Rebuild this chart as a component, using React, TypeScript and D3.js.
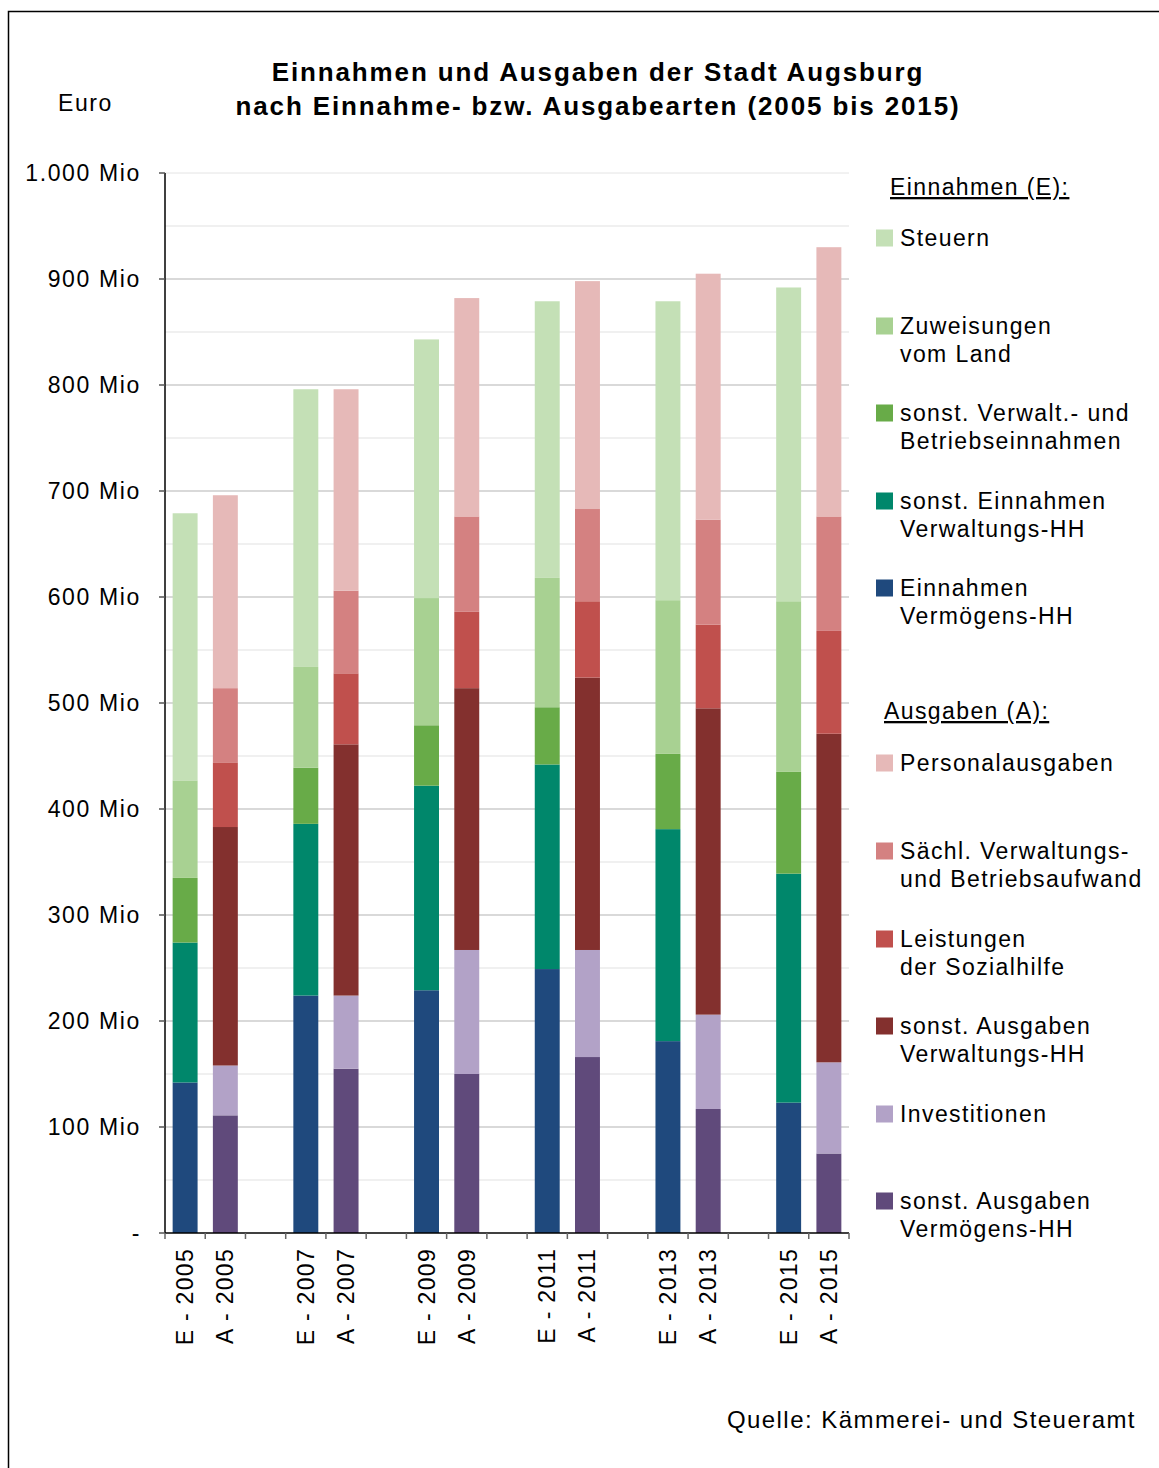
import React from "react";
import * as d3 from "d3";

const years = ["2005", "2007", "2009", "2011", "2013", "2015"];

// Einnahmen (E), Mio Euro
const steuern = [252, 262, 244, 261, 282, 296];
const zuweisungen = [92, 95, 120, 122, 145, 161];
const sonstVerwaltBetrieb = [61, 53, 57, 54, 71, 96];
const sonstEinnahmenVwHH = [132, 162, 193, 193, 200, 216];
const einnahmenVermHH = [142, 224, 229, 249, 181, 123];

// Ausgaben (A), Mio Euro
const personal = [182, 190, 206, 215, 232, 254];
const saechl = [70, 78, 90, 87, 99, 108];
const sozialhilfe = [61, 67, 72, 72, 79, 97];
const sonstAusgVwHH = [225, 237, 247, 257, 289, 310];
const investitionen = [47, 69, 117, 101, 89, 86];
const sonstAusgVermHH = [111, 155, 150, 166, 117, 75];

const yTicks = [0, 100, 200, 300, 400, 500, 600, 700, 800, 900, 1000];
const yTickLabels = ["-", "100 Mio", "200 Mio", "300 Mio", "400 Mio", "500 Mio", "600 Mio", "700 Mio", "800 Mio", "900 Mio", "1.000 Mio"];

const eSeries = [
  { key: "verm", label: ["Einnahmen", "Vermögens-HH"], color: "#1f497d", values: einnahmenVermHH },
  { key: "sonstE", label: ["sonst. Einnahmen", "Verwaltungs-HH"], color: "#00876b", values: sonstEinnahmenVwHH },
  { key: "sonstV", label: ["sonst. Verwalt.- und", "Betriebseinnahmen"], color: "#68ab48", values: sonstVerwaltBetrieb },
  { key: "zuw", label: ["Zuweisungen", "vom Land"], color: "#a8d192", values: zuweisungen },
  { key: "steuern", label: ["Steuern"], color: "#c4e0b6", values: steuern },
];
const aSeries = [
  { key: "sVerm", label: ["sonst. Ausgaben", "Vermögens-HH"], color: "#604a7b", values: sonstAusgVermHH },
  { key: "inv", label: ["Investitionen"], color: "#b2a2c7", values: investitionen },
  { key: "sVw", label: ["sonst. Ausgaben", "Verwaltungs-HH"], color: "#83302e", values: sonstAusgVwHH },
  { key: "soz", label: ["Leistungen", "der Sozialhilfe"], color: "#c0504d", values: sozialhilfe },
  { key: "saechl", label: ["Sächl. Verwaltungs-", "und Betriebsaufwand"], color: "#d48181", values: saechl },
  { key: "pers", label: ["Personalausgaben"], color: "#e6b9b8", values: personal },
];

const FONT = "'Liberation Sans', Arial, sans-serif";

export default function App() {
  const W = 1159, H = 1468;
  const left = 165, right = 849, top = 173, bottom = 1233;
  const nSlots = years.length * 3 - 1;
  const slots = d3.range(nSlots);
  const x = d3.scaleBand<number>().domain(slots).range([left, right]).padding(0);
  const y = d3.scaleLinear().domain([0, 1000]).range([bottom, top]);
  const barW = x.bandwidth() * 0.62;

  const rows = years.map((yr, i) => {
    const o: any = { year: yr };
    eSeries.forEach((s) => (o[s.key] = s.values[i]));
    aSeries.forEach((s) => (o[s.key] = s.values[i]));
    return o;
  });
  const eStack = d3.stack().keys(eSeries.map((s) => s.key))(rows);
  const aStack = d3.stack().keys(aSeries.map((s) => s.key))(rows);

  const labels: { slot: number; text: string }[] = [];
  years.forEach((yr, i) => {
    labels.push({ slot: i * 3, text: `E - ${yr}` });
    labels.push({ slot: i * 3 + 1, text: `A - ${yr}` });
  });

  const minor = d3.range(50, 1000, 100);
  const ls = 1.4;

  const legendE = [
    { s: eSeries[4], y: 238 },
    { s: eSeries[3], y: 326 },
    { s: eSeries[2], y: 413 },
    { s: eSeries[1], y: 501 },
    { s: eSeries[0], y: 588 },
  ];
  const legendA = [
    { s: aSeries[5], y: 763 },
    { s: aSeries[4], y: 851 },
    { s: aSeries[3], y: 939 },
    { s: aSeries[2], y: 1026 },
    { s: aSeries[1], y: 1114 },
    { s: aSeries[0], y: 1201 },
  ];

  return (
    <svg width={W} height={H} style={{ position: "absolute", left: 0, top: 0, background: "#fff" }} fontFamily={FONT}>
      <rect x={0} y={0} width={W} height={H} fill="#fff" />
      <rect x={8.5} y={11.5} width={W + 20} height={H + 20} fill="none" stroke="#000" strokeWidth={1.5} />

      {/* title */}
      <text x={598} y={81} textAnchor="middle" fontWeight="bold" fontSize={26} letterSpacing={1.87}>
        Einnahmen und Ausgaben der Stadt Augsburg
      </text>
      <text x={598} y={115} textAnchor="middle" fontWeight="bold" fontSize={26} letterSpacing={1.87}>
        nach Einnahme- bzw. Ausgabearten (2005 bis 2015)
      </text>
      <text x={58} y={111} fontSize={23} letterSpacing={1.6}>Euro</text>

      {/* gridlines */}
      {minor.map((v) => (
        <line key={"m" + v} x1={left} x2={right} y1={y(v)} y2={y(v)} stroke="#f0f0f0" strokeWidth={2} />
      ))}
      {yTicks.filter((v) => v > 0).map((v) => (
        <line key={"g" + v} x1={left} x2={right} y1={y(v)} y2={y(v)} stroke={v === 1000 ? "#e4e4e4" : "#d9d9d9"} strokeWidth={v === 1000 ? 1 : 2} />
      ))}

      {/* bars */}
      {eStack.map((layer, li) =>
        layer.map((d, i) => (
          <rect key={`e${li}-${i}`} x={(x(i * 3) as number) + (x.bandwidth() - barW) / 2} width={barW}
            y={y(d[1])} height={y(d[0]) - y(d[1])} fill={eSeries[li].color} />
        ))
      )}
      {aStack.map((layer, li) =>
        layer.map((d, i) => (
          <rect key={`a${li}-${i}`} x={(x(i * 3 + 1) as number) + (x.bandwidth() - barW) / 2} width={barW}
            y={y(d[1])} height={y(d[0]) - y(d[1])} fill={aSeries[li].color} />
        ))
      )}

      {/* y axis */}
      <line x1={left} x2={left} y1={top} y2={bottom} stroke="#000" strokeWidth={1.5} />
      {yTicks.map((v, i) => (
        <g key={"yt" + v}>
          <line x1={left - 6} x2={left} y1={y(v)} y2={y(v)} stroke="#555" strokeWidth={1.5} />
          <text x={141} y={y(v)} dy="0.35em" textAnchor="end" fontSize={23} letterSpacing={1.64}>
            {yTickLabels[i]}
          </text>
        </g>
      ))}

      {/* x axis */}
      <line x1={left} x2={right} y1={bottom} y2={bottom} stroke="#000" strokeWidth={1.5} />
      {d3.range(nSlots + 1).map((k) => {
        const px = k < nSlots ? (x(k) as number) : right;
        return <line key={"xt" + k} x1={px} x2={px} y1={bottom} y2={bottom + 6} stroke="#666" strokeWidth={1.5} />;
      })}
      {labels.map((l) => {
        const cx = (x(l.slot) as number) + x.bandwidth() / 2 + 8;
        return (
          <text key={l.text} transform={`translate(${cx},1248) rotate(-90)`} textAnchor="end" fontSize={23} letterSpacing={1.3}>
            {l.text}
          </text>
        );
      })}

      {/* legend */}
      <text x={890} y={195} fontSize={23} letterSpacing={ls} textDecoration="underline">Einnahmen (E):</text>
      {legendE.map(({ s, y: ly }) => (
        <g key={s.key}>
          <rect x={876} y={ly - 8.5} width={17} height={17} fill={s.color} />
          {s.label.map((t, j) => (
            <text key={j} x={900} y={ly + 8 + j * 28} fontSize={23} letterSpacing={ls}>{t}</text>
          ))}
        </g>
      ))}
      <text x={884} y={719} fontSize={23} letterSpacing={ls} textDecoration="underline">Ausgaben (A):</text>
      {legendA.map(({ s, y: ly }) => (
        <g key={s.key}>
          <rect x={876} y={ly - 8.5} width={17} height={17} fill={s.color} />
          {s.label.map((t, j) => (
            <text key={j} x={900} y={ly + 8 + j * 28} fontSize={23} letterSpacing={ls}>{t}</text>
          ))}
        </g>
      ))}

      <text x={1136} y={1428} textAnchor="end" fontSize={24} letterSpacing={1.45}>Quelle: Kämmerei- und Steueramt</text>
    </svg>
  );
}
